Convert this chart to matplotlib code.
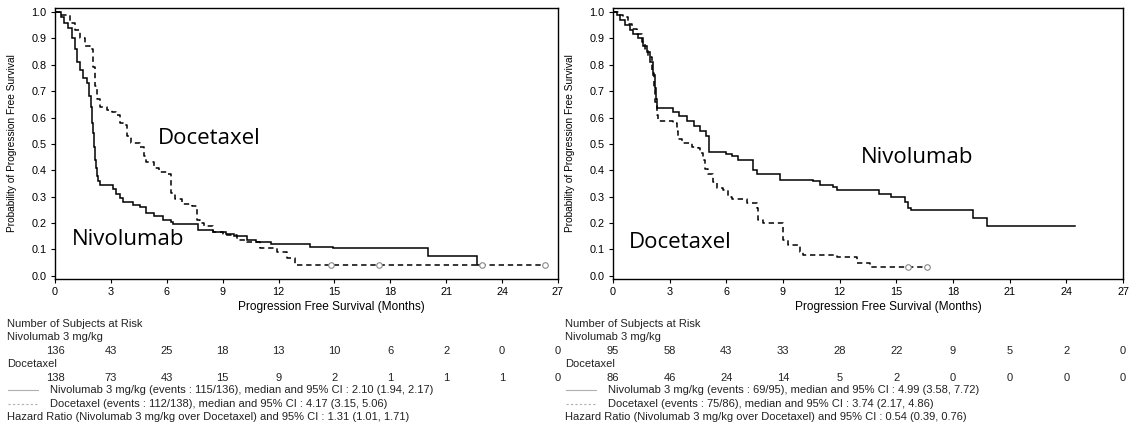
import matplotlib
matplotlib.use("Agg")
import matplotlib.pyplot as plt
import matplotlib.transforms as mtransforms
from matplotlib.lines import Line2D
import numpy as np

# ---- data ----
months = [0, 3, 6, 9, 12, 15, 18, 21, 24, 27]

# left panel
left_nivo_t = [0, 0.3, 0.5, 0.7, 0.9, 1.05, 1.17, 1.35, 1.5, 1.7, 1.85, 1.93, 2.0, 2.05, 2.1,
               2.15, 2.2, 2.25, 2.3, 2.4, 3.1, 3.3, 3.5, 3.65, 4.2, 4.55, 4.9, 5.3, 5.8, 6.2,
               6.35, 7.7, 8.5, 9.2, 9.6, 10.3, 10.8, 11.6, 13.7, 14.9, 20.0, 22.65]
left_nivo_s = [1.0, 0.98, 0.96, 0.94, 0.90, 0.86, 0.81, 0.78, 0.75, 0.73, 0.68, 0.64, 0.58, 0.54,
               0.49, 0.44, 0.41, 0.38, 0.36, 0.345, 0.33, 0.31, 0.295, 0.278, 0.27, 0.26, 0.24,
               0.225, 0.213, 0.205, 0.195, 0.175, 0.168, 0.16, 0.15, 0.137, 0.128, 0.122, 0.11,
               0.105, 0.076, 0.04]
left_nivo_end = 22.9

left_doce_t = [0, 0.3, 0.8, 1.07, 1.35, 1.6, 1.9, 2.03, 2.15, 2.25, 2.4, 2.8, 3.05, 3.3, 3.5,
               3.65, 3.85, 4.1, 4.55, 4.8, 4.9, 5.3, 5.6, 6.0, 6.2, 6.25, 6.45, 6.8, 7.35, 7.6,
               7.8, 8.0, 8.5, 9.0, 9.75, 10.3, 11.0, 11.9, 12.45, 12.9]
left_doce_s = [1.0, 0.99, 0.96, 0.93, 0.90, 0.87, 0.86, 0.79, 0.72, 0.67, 0.64, 0.63, 0.62, 0.61,
               0.58, 0.57, 0.53, 0.505, 0.49, 0.455, 0.43, 0.41, 0.395, 0.385, 0.365, 0.315, 0.29,
               0.274, 0.263, 0.213, 0.2, 0.19, 0.167, 0.156, 0.137, 0.127, 0.105, 0.092, 0.068,
               0.042]
left_doce_end = 26.3
left_doce_cens = [14.8, 17.4, 22.9, 26.3]

left_risk_nivo = [136, 43, 25, 18, 13, 10, 6, 2, 0, 0]
left_risk_doce = [138, 73, 43, 15, 9, 2, 1, 1, 1, 0]
left_legend = [
    "Nivolumab 3 mg/kg (events : 115/136), median and 95% CI : 2.10 (1.94, 2.17)",
    "Docetaxel (events : 112/138), median and 95% CI : 4.17 (3.15, 5.06)",
    "Hazard Ratio (Nivolumab 3 mg/kg over Docetaxel) and 95% CI : 1.31 (1.01, 1.71)",
]

# right panel
right_nivo_t = [0, 0.2, 0.37, 0.63, 0.9, 1.06, 1.32, 1.6, 1.8, 1.96, 2.1, 2.22, 2.3, 2.35, 3.2,
                3.5, 3.9, 4.3, 4.6, 4.9, 5.1, 6.0, 6.3, 6.6, 7.4, 7.6, 8.85, 10.6, 10.95, 11.65,
                11.85, 14.1, 14.7, 15.45, 15.6, 15.8, 19.05, 19.8]
right_nivo_s = [1.0, 0.99, 0.97, 0.95, 0.93, 0.915, 0.9, 0.87, 0.85, 0.81, 0.76, 0.71, 0.67,
                0.635, 0.62, 0.605, 0.585, 0.567, 0.55, 0.53, 0.47, 0.46, 0.453, 0.44, 0.40,
                0.385, 0.365, 0.358, 0.346, 0.335, 0.327, 0.31, 0.30, 0.28, 0.258, 0.25, 0.22,
                0.187]
right_nivo_end = 24.45

right_doce_t = [0, 0.3, 0.53, 0.8, 1.0, 1.27, 1.53, 1.7, 1.85, 2.06, 2.17, 2.22, 2.33, 2.38,
                3.17, 3.37, 3.45, 3.65, 4.17, 4.5, 4.6, 4.77, 4.87, 5.03, 5.3, 5.5, 5.8, 6.1,
                6.3, 7.08, 7.6, 7.7, 7.95, 9.0, 9.27, 9.9, 10.07, 11.85, 12.9, 13.6]
right_doce_s = [1.0, 0.99, 0.98, 0.955, 0.935, 0.915, 0.885, 0.86, 0.83, 0.77, 0.71, 0.66, 0.61,
                0.585, 0.58, 0.55, 0.517, 0.505, 0.49, 0.485, 0.466, 0.44, 0.403, 0.385, 0.357,
                0.334, 0.327, 0.30, 0.29, 0.277, 0.258, 0.213, 0.20, 0.137, 0.118, 0.092, 0.08,
                0.07, 0.05, 0.035]
right_doce_end = 16.8
right_doce_cens = [15.6, 16.6]

right_risk_nivo = [95, 58, 43, 33, 28, 22, 9, 5, 2, 0]
right_risk_doce = [86, 46, 24, 14, 5, 2, 0, 0, 0, 0]
right_legend = [
    "Nivolumab 3 mg/kg (events : 69/95), median and 95% CI : 4.99 (3.58, 7.72)",
    "Docetaxel (events : 75/86), median and 95% CI : 3.74 (2.17, 4.86)",
    "Hazard Ratio (Nivolumab 3 mg/kg over Docetaxel) and 95% CI : 0.54 (0.39, 0.76)",
]

W, H = 1131, 428
SMALL = ["Liberation Sans", "DejaVu Sans"]
BIG = ["Open Sans", "DejaVu Sans"]
TXT = 8
GREY = "#222222"


def fy(py):
    return 1 - py / H


def km(ax, t, s, end, **kw):
    x = np.append(t, end)
    y = np.append(s, s[-1])
    ax.step(x, y, where="post", **kw)


def panel(rect, nivo, doce, cens, risk_nivo, risk_doce, legend, labels, xlab_x):
    fig = plt.gcf()
    ax = fig.add_axes(rect)
    km(ax, *nivo, color="black", lw=1.1, solid_joinstyle="miter")
    km(ax, *doce, color="black", lw=1.1, linestyle=(0, (3.5, 2.5)))
    y_end = np.full(len(cens), doce[1][-1])
    ax.plot(cens, y_end, "o", ms=4, mfc="white", mec="#888888", mew=0.8)
    ax.set_xlim(0, 27)
    ax.set_ylim(-0.012, 1.015)
    ax.set_xticks(months)
    ax.set_yticks(np.arange(0, 1.01, 0.1))
    ax.yaxis.set_major_formatter(matplotlib.ticker.FormatStrFormatter("%.1f"))
    ax.tick_params(direction="out", length=3, width=0.8, labelsize=7.8, pad=3)
    for lab in ax.get_xticklabels() + ax.get_yticklabels():
        lab.set_family(SMALL)
    for sp in ax.spines.values():
        sp.set_linewidth(1.0)
    ax.set_ylabel("Probability of Progression Free Survival", fontsize=7.3, family=SMALL)
    ax.yaxis.set_label_coords(-0.075, 0.5)
    ax.set_xlabel("Progression Free Survival (Months)", fontsize=8.6, family=SMALL)
    ax.xaxis.set_label_coords(xlab_x, -0.08)
    for txt, x, y in labels:
        ax.text(x, y, txt, fontsize=16, family=BIG, ha="center", va="center")

    # number at risk table
    x0 = rect[0] * W
    tr = mtransforms.blended_transform_factory(ax.transData, fig.transFigure)
    for txt, py in (("Number of Subjects at Risk", 324), ("Nivolumab 3 mg/kg", 337),
                    ("Docetaxel", 364)):
        fig.text((x0 - 48) / W, fy(py), txt, fontsize=TXT, family=SMALL, va="center",
                 color=GREY)
    for m, a, b in zip(months, risk_nivo, risk_doce):
        ax.text(m, fy(351), str(a), transform=tr, fontsize=TXT, family=SMALL, ha="center",
                va="center", color=GREY, clip_on=False)
        ax.text(m, fy(378), str(b), transform=tr, fontsize=TXT, family=SMALL, ha="center",
                va="center", color=GREY, clip_on=False)
    # legend lines
    fig.add_artist(Line2D([(x0 - 47) / W, (x0 - 17) / W], [fy(390), fy(390)],
                          color="#b0b0b0", lw=0.8))
    fig.add_artist(Line2D([(x0 - 47) / W, (x0 - 17) / W], [fy(404), fy(404)],
                          color="#b0b0b0", lw=0.8, linestyle=(0, (2, 2))))
    fig.text((x0 - 5) / W, fy(390), legend[0], fontsize=TXT, family=SMALL, va="center",
             color=GREY)
    fig.text((x0 - 5) / W, fy(404), legend[1], fontsize=TXT, family=SMALL, va="center",
             color=GREY)
    fig.text((x0 - 48) / W, fy(417), legend[2], fontsize=TXT, family=SMALL, va="center",
             color=GREY)
    return ax


fig = plt.figure(figsize=(W / 100, H / 100), dpi=100)
fig.patch.set_facecolor("white")

panel([55 / W, 1 - 279 / H, 503 / W, 271 / H],
      (left_nivo_t, left_nivo_s, left_nivo_end),
      (left_doce_t, left_doce_s, left_doce_end),
      left_doce_cens, left_risk_nivo, left_risk_doce, left_legend,
      [("Docetaxel", 8.3, 0.52), ("Nivolumab", 3.9, 0.137)], 0.55)

panel([613 / W, 1 - 279 / H, 510 / W, 271 / H],
      (right_nivo_t, right_nivo_s, right_nivo_end),
      (right_doce_t, right_doce_s, right_doce_end),
      right_doce_cens, right_risk_nivo, right_risk_doce, right_legend,
      [("Nivolumab", 16.1, 0.45), ("Docetaxel", 3.55, 0.125)], 0.54)

fig.savefig("out.png", dpi=100)
